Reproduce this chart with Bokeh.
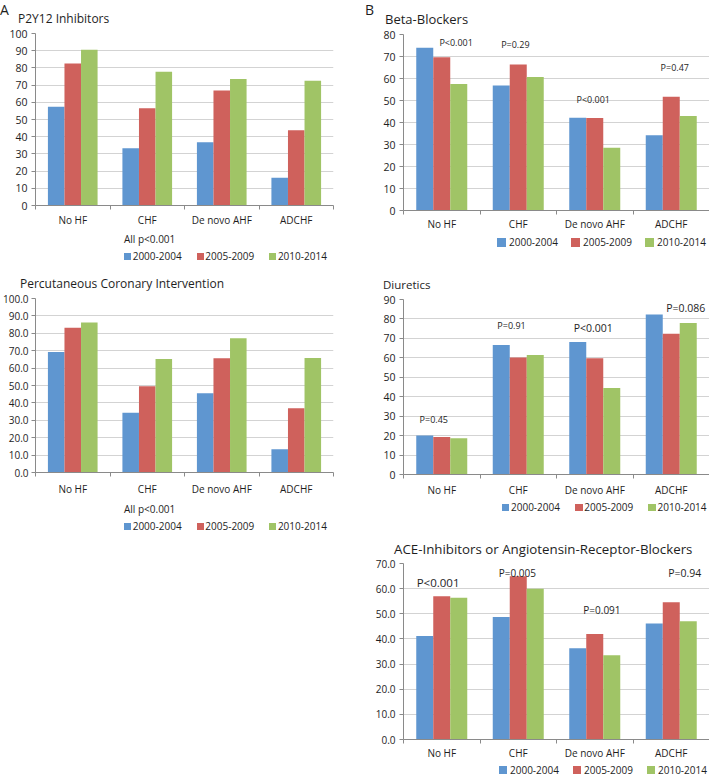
from bokeh.plotting import figure
from bokeh.models import (Range1d, FixedTicker, Label, Div,
                          ColumnDataSource, PrintfTickFormatter)
from bokeh.layouts import column, row
from bokeh.transform import dodge
from bokeh.embed import file_html
from bokeh.resources import INLINE

categories = ["No HF", "CHF", "De novo AHF", "ADCHF"]
periods = ["2000-2004", "2005-2009", "2010-2014"]
colors = ["#5F96D0", "#CF615C", "#A0C466"]

p2y12_2000 = [57.4, 33.3, 36.8, 16.2]
p2y12_2005 = [82.6, 56.6, 66.8, 43.8]
p2y12_2010 = [90.5, 77.8, 73.5, 72.5]

pci_2000 = [69.2, 34.4, 45.5, 13.4]
pci_2005 = [83.2, 49.5, 65.6, 36.9]
pci_2010 = [86.2, 65.2, 77.2, 65.8]

bb_2000 = [74.0, 56.8, 42.2, 34.2]
bb_2005 = [69.7, 66.4, 42.1, 51.7]
bb_2010 = [57.5, 60.7, 28.5, 43.0]

diur_2000 = [20.1, 66.6, 68.1, 82.3]
diur_2005 = [19.3, 60.2, 59.8, 72.4]
diur_2010 = [18.6, 61.5, 44.5, 77.9]

ace_2000 = [41.2, 48.7, 36.3, 46.1]
ace_2005 = [57.0, 64.9, 42.0, 54.6]
ace_2010 = [56.4, 60.0, 33.5, 47.0]

bb_pvalues = ["P<0.001", "P=0.29", "P<0.001", "P=0.47"]
diur_pvalues = ["P=0.45", "P=0.91", "P<0.001", "P=0.086"]
ace_pvalues = ["P<0.001", "P=0.005", "P=0.091", "P=0.94"]
all_note = "All p<0.001"

titles = ["P2Y12 Inhibitors", "Percutaneous Coronary Intervention", "Beta-Blockers",
          "Diuretics", "ACE-Inhibitors or Angiotensin-Receptor-Blockers"]
letters = ["A", "B"]

FONT = "Open Sans"
TXT = "#1e1e1e"
AXC = "#8a8a8a"
GRID = "#d3d3d3"
BAR_W = 1 / 4.5


def span(txt, left, top, fs, lh=None):
    lh = f"{fs}px" if lh is None else lh
    return (f'<span style="position:absolute;left:{left}px;top:{top}px;font-size:{fs}px;'
            f'line-height:{lh};white-space:nowrap">{txt}</span>')


def box(width, height, inner):
    html = (f'<div style="position:relative;width:{width}px;height:{height}px;'
            f"font-family:'{FONT}';color:{TXT}\">{inner}</div>")
    return Div(text=html, width=width, height=height, margin=0)


def header(width, height, parts, letter=None):
    inner = ""
    if letter:
        t, l, fs = letter
        inner += span(t, l, 0, fs, lh="normal")
    inner += "".join(span(t, l, tp, fs) for t, l, tp, fs in parts)
    return box(width, height, inner)


def legend_div(width, height, sq_x0, sq_top, sq, pitch, txt_dx, txt_top, note=None, note_top=0):
    inner = ""
    if note:
        inner += span(note, sq_x0, note_top, 10)
    for k, (per, col) in enumerate(zip(periods, colors)):
        x = sq_x0 + k * pitch
        inner += (f'<span style="position:absolute;left:{x:.1f}px;top:{sq_top}px;'
                  f'width:{sq}px;height:{sq}px;background:{col}"></span>')
        inner += span(per, round(x + txt_dx, 1), txt_top, 10)
    return box(width, height, inner)


def chart(values, ymax, ystep, fmt, fw, fh, bl, bt, br, bb, xlabel_standoff,
          ytick_size="10.5px", ystandoff=4,
          pvals=None, pv_pos=None, pv_sizes=None):
    p = figure(frame_width=fw, frame_height=fh, min_border_left=bl, min_border_top=bt,
               min_border_right=br, min_border_bottom=bb,
               x_range=Range1d(-0.5, len(categories) - 0.5), y_range=Range1d(0, ymax),
               output_backend="svg", toolbar_location=None)
    p.outline_line_color = None

    n = len(categories)
    xa = p.xaxis[0]
    xa.ticker = FixedTicker(ticks=list(range(n)),
                            minor_ticks=[i - 0.5 for i in range(n + 1)])
    xa.major_label_overrides = {i: c for i, c in enumerate(categories)}
    xa.major_tick_line_color = None
    xa.major_tick_out = 0
    xa.major_tick_in = 0
    xa.minor_tick_in = 0
    xa.minor_tick_out = 4
    xa.minor_tick_line_color = AXC
    xa.axis_line_color = AXC
    xa.major_label_standoff = xlabel_standoff
    xa.major_label_text_font = FONT
    xa.major_label_text_font_size = "10px"
    xa.major_label_text_color = TXT

    ya = p.yaxis[0]
    yt = list(range(0, ymax + 1, ystep))
    ya.ticker = FixedTicker(ticks=yt, minor_ticks=[])
    ya.formatter = PrintfTickFormatter(format=fmt)
    ya.major_tick_in = 0
    ya.major_tick_out = 4
    ya.major_tick_line_color = AXC
    ya.axis_line_color = AXC
    ya.major_label_standoff = ystandoff
    ya.major_label_text_font = FONT
    ya.major_label_text_font_size = ytick_size
    ya.major_label_text_color = TXT

    p.xgrid.visible = False
    p.ygrid.ticker = FixedTicker(ticks=yt)
    p.ygrid.grid_line_color = GRID

    src = ColumnDataSource(dict(x=list(range(n)), s0=values[0], s1=values[1], s2=values[2]))
    for k, col in enumerate(colors):
        p.vbar(x=dodge("x", (k - 1) * BAR_W, range=p.x_range), top=f"s{k}",
               width=BAR_W, source=src, fill_color=col, line_color=None)

    if pvals:
        for t, (px, py), fs in zip(pvals, pv_pos, pv_sizes):
            p.add_layout(Label(x=px, y=py, text=t, text_font=FONT, text_font_size=fs,
                               text_color=TXT, text_baseline="middle", text_align="center"))
    return p


# ---- left column (width 354) ----
hA1 = header(354, 25, [(titles[0], 18, 12.6, 12)], letter=(letters[0], 0, 14))
a1 = chart([p2y12_2000, p2y12_2005, p2y12_2010], 100, 10, "%d",
           298, 172, 34, 8, 22, 26, 3)
lA1 = legend_div(354, 39, 124, 21.5, 7, 72.6, 8.7, 19.7, note=all_note, note_top=2.7)

hA2 = header(354, 20, [(titles[1], 20, 7.6, 12)])
a2 = chart([pci_2000, pci_2005, pci_2010], 100, 10, "%.1f",
           298, 174, 34, 8, 22, 28, 5, ytick_size="10px", ystandoff=3)
lA2 = legend_div(354, 36, 124, 22.5, 7, 72.6, 8.7, 20.7, note=all_note, note_top=3.7)

# ---- right column (width 355) ----
hB1 = header(355, 26, [(titles[2], 30, 12.5, 13)], letter=(letters[1], 10, 14))
b1 = chart([bb_2000, bb_2005, bb_2010], 80, 10, "%d",
           306, 176, 48, 8, 1, 25, 2,
           pvals=bb_pvalues, pv_pos=[(0.188, 76.5), (0.962, 75.5), (1.98, 50.4), (3.046, 65.1)],
           pv_sizes=["9px", "9px", "9px", "9px"])
lB1 = legend_div(355, 31, 141.7, 2.8, 9, 74, 12.3, 2.0)

hB2 = header(355, 26, [(titles[3], 28, 12.8, 11.5)])
b2 = chart([diur_2000, diur_2005, diur_2010], 90, 10, "%d",
           306, 175, 48, 7, 1, 27, 4,
           pvals=diur_pvalues, pv_pos=[(-0.104, 28.4), (0.912, 76.4), (1.98, 75.6), (3.19, 85.7)],
           pv_sizes=["9px", "9px", "10.5px", "10.5px"])
lB2 = legend_div(355, 19, 146.7, 2.75, 7.5, 73.3, 9.3, 1.2)

hB3 = header(355, 38, [(titles[4], 39, 22.8, 13.3)])
b3 = chart([ace_2000, ace_2005, ace_2010], 70, 10, "%.1f",
           306, 176, 48, 5, 1, 24, 2, ytick_size="10px",
           pvals=ace_pvalues, pv_pos=[(-0.048, 62.4), (0.988, 66.1), (2.094, 51.6), (3.177, 66.1)],
           pv_sizes=["11.5px", "10px", "10px", "10.5px"])
lB3 = legend_div(355, 13, 144.3, 3, 8, 74, 10.7, 1.7)

layout = row(column(hA1, a1, lA1, hA2, a2, lA2),
             column(hB1, b1, lB1, hB2, b2, lB2, hB3, b3, lB3))

open("out.html", "w").write(file_html(layout, INLINE))
